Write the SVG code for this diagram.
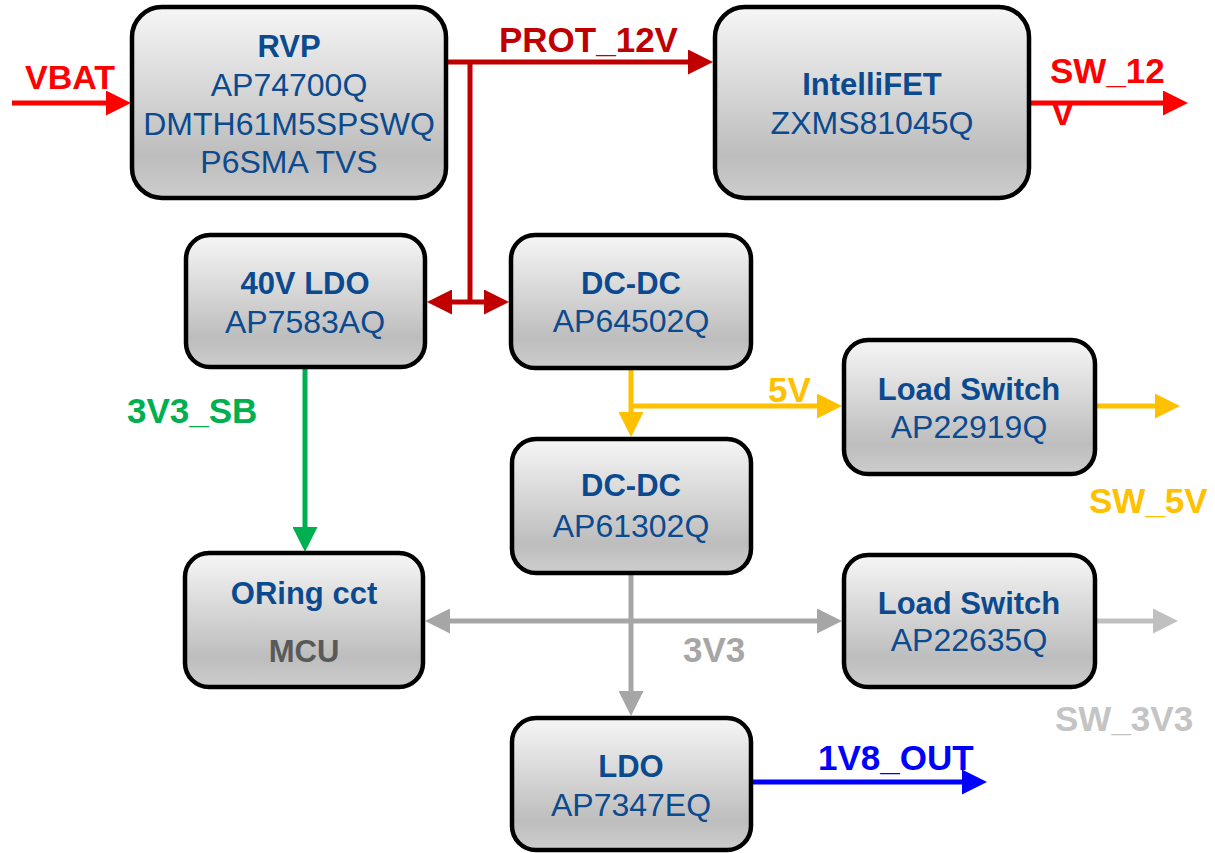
<svg xmlns="http://www.w3.org/2000/svg" width="1215" height="853" viewBox="0 0 1215 853">
  <defs>
    <linearGradient id="boxfill" x1="0" y1="0" x2="0" y2="1">
      <stop offset="0" stop-color="#f6f6f6"/>
      <stop offset="0.78" stop-color="#bdbdbd"/>
      <stop offset="1" stop-color="#cdcdcd"/>
    </linearGradient>
    <marker id="ah-red" viewBox="0 0 25 25" refX="10" refY="12.5" markerWidth="25" markerHeight="25" markerUnits="userSpaceOnUse" orient="auto-start-reverse"><path d="M0,0 L25,12.5 L0,25 z" fill="#ff0000"/></marker>
    <marker id="ah-dred" viewBox="0 0 25 25" refX="10" refY="12.5" markerWidth="25" markerHeight="25" markerUnits="userSpaceOnUse" orient="auto-start-reverse"><path d="M0,0 L25,12.5 L0,25 z" fill="#c00000"/></marker>
    <marker id="ah-green" viewBox="0 0 25 25" refX="10" refY="12.5" markerWidth="25" markerHeight="25" markerUnits="userSpaceOnUse" orient="auto-start-reverse"><path d="M0,0 L25,12.5 L0,25 z" fill="#00b050"/></marker>
    <marker id="ah-orange" viewBox="0 0 25 25" refX="10" refY="12.5" markerWidth="25" markerHeight="25" markerUnits="userSpaceOnUse" orient="auto-start-reverse"><path d="M0,0 L25,12.5 L0,25 z" fill="#ffc000"/></marker>
    <marker id="ah-gray" viewBox="0 0 25 25" refX="10" refY="12.5" markerWidth="25" markerHeight="25" markerUnits="userSpaceOnUse" orient="auto-start-reverse"><path d="M0,0 L25,12.5 L0,25 z" fill="#a6a6a6"/></marker>
    <marker id="ah-lgray" viewBox="0 0 25 25" refX="10" refY="12.5" markerWidth="25" markerHeight="25" markerUnits="userSpaceOnUse" orient="auto-start-reverse"><path d="M0,0 L25,12.5 L0,25 z" fill="#c0c0c0"/></marker>
    <marker id="ah-blue" viewBox="0 0 25 25" refX="10" refY="12.5" markerWidth="25" markerHeight="25" markerUnits="userSpaceOnUse" orient="auto-start-reverse"><path d="M0,0 L25,12.5 L0,25 z" fill="#0000ff"/></marker>
  </defs>
  <style>
    .box { fill: url(#boxfill); stroke: #000000; stroke-width: 4.5; }
    .t { font-family: "Liberation Sans", Arial, sans-serif; text-anchor: middle; fill: #0b4a8e; }
    .b { font-weight: bold; font-size: 31px; }
    .r { font-size: 32px; }
    .lbl { font-family: "Liberation Sans", Arial, sans-serif; font-weight: bold; font-size: 35px; }
    .w { fill: none; stroke-width: 5; }
  </style>
  <rect width="1215" height="853" fill="#ffffff"/>

  <g id="connectors">
    <line class="w" x1="12" y1="103" x2="116" y2="103" stroke="#ff0000" marker-end="url(#ah-red)"/>
    <line class="w" x1="448" y1="62" x2="698" y2="62" stroke="#c00000" marker-end="url(#ah-dred)"/>
    <line class="w" x1="470" y1="62" x2="470" y2="302" stroke="#c00000"/>
    <line class="w" x1="442" y1="302" x2="494" y2="302" stroke="#c00000" marker-start="url(#ah-dred)" marker-end="url(#ah-dred)"/>
    <line class="w" x1="1031" y1="103" x2="1173" y2="103" stroke="#ff0000" marker-end="url(#ah-red)"/>
    <line class="w" x1="631" y1="370" x2="631" y2="422" stroke="#ffc000" marker-end="url(#ah-orange)"/>
    <line class="w" x1="631" y1="406" x2="827" y2="406" stroke="#ffc000" marker-end="url(#ah-orange)"/>
    <line class="w" x1="1097" y1="406" x2="1165" y2="406" stroke="#ffc000" marker-end="url(#ah-orange)"/>
    <line class="w" x1="305" y1="369" x2="305" y2="537" stroke="#00b050" marker-end="url(#ah-green)"/>
    <line class="w" x1="631" y1="575" x2="631" y2="701" stroke="#a6a6a6" marker-end="url(#ah-gray)"/>
    <line class="w" x1="440" y1="621" x2="827" y2="621" stroke="#a6a6a6" marker-start="url(#ah-gray)" marker-end="url(#ah-gray)"/>
    <line class="w" x1="1097" y1="621" x2="1163" y2="621" stroke="#c0c0c0" marker-end="url(#ah-lgray)"/>
    <line class="w" x1="752" y1="782" x2="972" y2="782" stroke="#0000ff" marker-end="url(#ah-blue)"/>
  </g>

  <g id="labels">
    <text class="lbl" x="25" y="89" font-size="34" fill="#ff0000" style="font-size:34px">VBAT</text>
    <text class="lbl" x="499" y="52" fill="#c00000">PROT_12V</text>
    <text class="lbl" x="1050" y="83" fill="#ff0000">SW_12</text>
    <text class="lbl" x="1051" y="125" fill="#ff0000">V</text>
    <text class="lbl" x="768" y="402" fill="#ffc000">5V</text>
    <text class="lbl" x="1089" y="513" fill="#ffc000">SW_5V</text>
    <text class="lbl" x="127" y="423" fill="#00b050">3V3_SB</text>
    <text class="lbl" x="683" y="662" fill="#a6a6a6">3V3</text>
    <text class="lbl" x="1055" y="731" fill="#c4c4c4">SW_3V3</text>
    <text class="lbl" x="818" y="770" fill="#0000ff">1V8_OUT</text>
  </g>

  <g id="node-rvp">
    <rect class="box" x="132" y="7" width="314" height="191" rx="30"/>
    <text class="t b" x="289" y="57">RVP</text>
    <text class="t r" x="289" y="96">AP74700Q</text>
    <text class="t r" x="289" y="135">DMTH61M5SPSWQ</text>
    <text class="t r" x="289" y="173">P6SMA TVS</text>
  </g>
  <g id="node-intellifet">
    <rect class="box" x="715" y="7" width="314" height="191" rx="30"/>
    <text class="t b" x="872" y="95">IntelliFET</text>
    <text class="t r" x="872" y="134">ZXMS81045Q</text>
  </g>
  <g id="node-ldo40">
    <rect class="box" x="186" y="235" width="239" height="132" rx="24"/>
    <text class="t b" x="305" y="294">40V LDO</text>
    <text class="t r" x="305" y="333">AP7583AQ</text>
  </g>
  <g id="node-dcdc1">
    <rect class="box" x="511" y="235" width="240" height="133" rx="24"/>
    <text class="t b" x="631" y="294">DC-DC</text>
    <text class="t r" x="631" y="332">AP64502Q</text>
  </g>
  <g id="node-ls1">
    <rect class="box" x="844" y="340" width="251" height="134" rx="24"/>
    <text class="t b" x="969" y="400">Load Switch</text>
    <text class="t r" x="969" y="438">AP22919Q</text>
  </g>
  <g id="node-dcdc2">
    <rect class="box" x="512" y="439" width="239" height="134" rx="24"/>
    <text class="t b" x="631" y="496">DC-DC</text>
    <text class="t r" x="631" y="537">AP61302Q</text>
  </g>
  <g id="node-oring">
    <rect class="box" x="185" y="553" width="238" height="134" rx="24"/>
    <text class="t b" x="304" y="604">ORing cct</text>
    <text class="t b" x="304" y="662" style="fill:#595959">MCU</text>
  </g>
  <g id="node-ls2">
    <rect class="box" x="844" y="555" width="251" height="132" rx="24"/>
    <text class="t b" x="969" y="614">Load Switch</text>
    <text class="t r" x="969" y="651">AP22635Q</text>
  </g>
  <g id="node-ldo">
    <rect class="box" x="512" y="718" width="239" height="132" rx="24"/>
    <text class="t b" x="631" y="777">LDO</text>
    <text class="t r" x="631" y="816">AP7347EQ</text>
  </g>
</svg>
